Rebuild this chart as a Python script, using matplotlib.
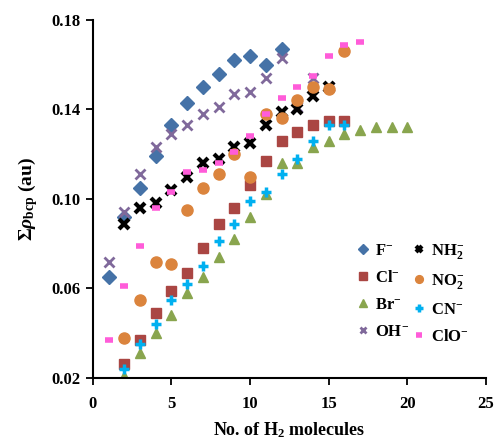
import matplotlib
matplotlib.use("Agg")
import matplotlib.pyplot as plt

plt.rcParams['font.family'] = ['Liberation Serif', 'DejaVu Serif']
plt.rcParams['font.weight'] = 'bold'
plt.rcParams['mathtext.fontset'] = 'custom'
plt.rcParams['mathtext.rm'] = 'Liberation Serif:bold'
plt.rcParams['mathtext.it'] = 'Liberation Serif:bold:italic'
plt.rcParams['mathtext.bf'] = 'Liberation Serif:bold'

# values
F_x = list(range(1, 13))
F_y = [0.065, 0.092, 0.105, 0.119, 0.133, 0.143, 0.150, 0.156, 0.162, 0.164, 0.160, 0.167]
Cl_x = list(range(2, 17))
Cl_y = [0.026, 0.037, 0.049, 0.059, 0.067, 0.078, 0.089, 0.096, 0.106, 0.117, 0.126, 0.130, 0.133, 0.135, 0.135]
Br_x = list(range(2, 21))
Br_y = [0.021, 0.031, 0.040, 0.048, 0.058, 0.065, 0.074, 0.082, 0.092, 0.102, 0.116, 0.116, 0.123,
        0.126, 0.129, 0.131, 0.132, 0.132, 0.132]
OH_x = list(range(1, 16))
OH_y = [0.072, 0.094, 0.111, 0.123, 0.129, 0.133, 0.138, 0.141, 0.147, 0.148, 0.154, 0.163, 0.141, 0.154, 0.150]
NH2_x = list(range(2, 16))
NH2_y = [0.089, 0.096, 0.098, 0.104, 0.110, 0.116, 0.118, 0.123, 0.125, 0.133, 0.139, 0.140, 0.146, 0.150]
NO2_x = list(range(2, 17))
NO2_y = [0.038, 0.055, 0.072, 0.071, 0.095, 0.105, 0.111, 0.120, 0.110, 0.138, 0.136, 0.144, 0.150, 0.149, 0.166]
CN_x = list(range(2, 17))
CN_y = [0.024, 0.035, 0.044, 0.055, 0.062, 0.070, 0.081, 0.089, 0.099, 0.103, 0.111, 0.118, 0.126, 0.133, 0.133]
ClO_x = list(range(1, 18))
ClO_y = [0.037, 0.061, 0.079, 0.096, 0.103, 0.112, 0.113, 0.116, 0.121, 0.128, 0.138, 0.145, 0.150,
         0.155, 0.164, 0.169, 0.170]

fig = plt.figure(figsize=(4.99, 4.44), dpi=100)
ax = fig.add_axes([0.186, 0.149, 0.788, 0.806])

ax.plot(F_x, F_y, ls='none', marker='D', ms=7, color='#4572A7', label=r'F$^{-}$')
ax.plot(Cl_x, Cl_y, ls='none', marker='s', ms=7.5, color='#AA4643', label=r'Cl$^{-}$')
ax.plot(Br_x, Br_y, ls='none', marker='^', ms=7.5, color='#89A54E', label=r'Br$^{-}$')
ax.plot(OH_x, OH_y, ls='none', marker='x', ms=7, mew=2, color='#80699B', label=r'OH$^{-}$')
ax.plot(NH2_x, NH2_y, ls='none', marker='x', ms=6.5, mew=3, color='black', label=r'NH$_2^{-}$')
ax.plot(NO2_x, NO2_y, ls='none', marker='o', ms=8, color='#DB843D', label=r'NO$_2^{-}$')
ax.plot(CN_x, CN_y, ls='none', marker='+', ms=7.5, mew=2.5, color='#00B0F0', label=r'CN$^{-}$')
ax.plot(ClO_x, ClO_y, ls='none', marker='_', ms=6, mew=4, color='#FF5CD9', label=r'ClO$^{-}$')

ax.set_xlim(0, 25)
ax.set_ylim(0.02, 0.18)
ax.set_xticks([0, 5, 10, 15, 20, 25])
ax.set_yticks([0.02, 0.06, 0.10, 0.14, 0.18])
ax.set_yticklabels(['0.02', '0.06', '0.10', '0.14', '0.18'])
ax.tick_params(direction='out', length=5, width=1.3, labelsize=12, pad=4)
ax.tick_params(axis='x', pad=8)
for s in ['top', 'right']:
    ax.spines[s].set_visible(False)
for s in ['left', 'bottom']:
    ax.spines[s].set_linewidth(1.5)

ax.set_xlabel('No. of H$_2$ molecules', fontsize=13, fontweight='bold', labelpad=6)
ax.set_ylabel(r'$\Sigma\rho_{\rm bcp}$ (au)', fontsize=14, fontweight='bold', labelpad=8)

leg = ax.legend(ncol=2, loc='upper left', bbox_to_anchor=(0.633, 0.422), frameon=False,
                fontsize=12, handlelength=0.8, handletextpad=0.3, columnspacing=0.2,
                labelspacing=0.66, markerscale=0.7)

fig.savefig('out.png', dpi=100)
